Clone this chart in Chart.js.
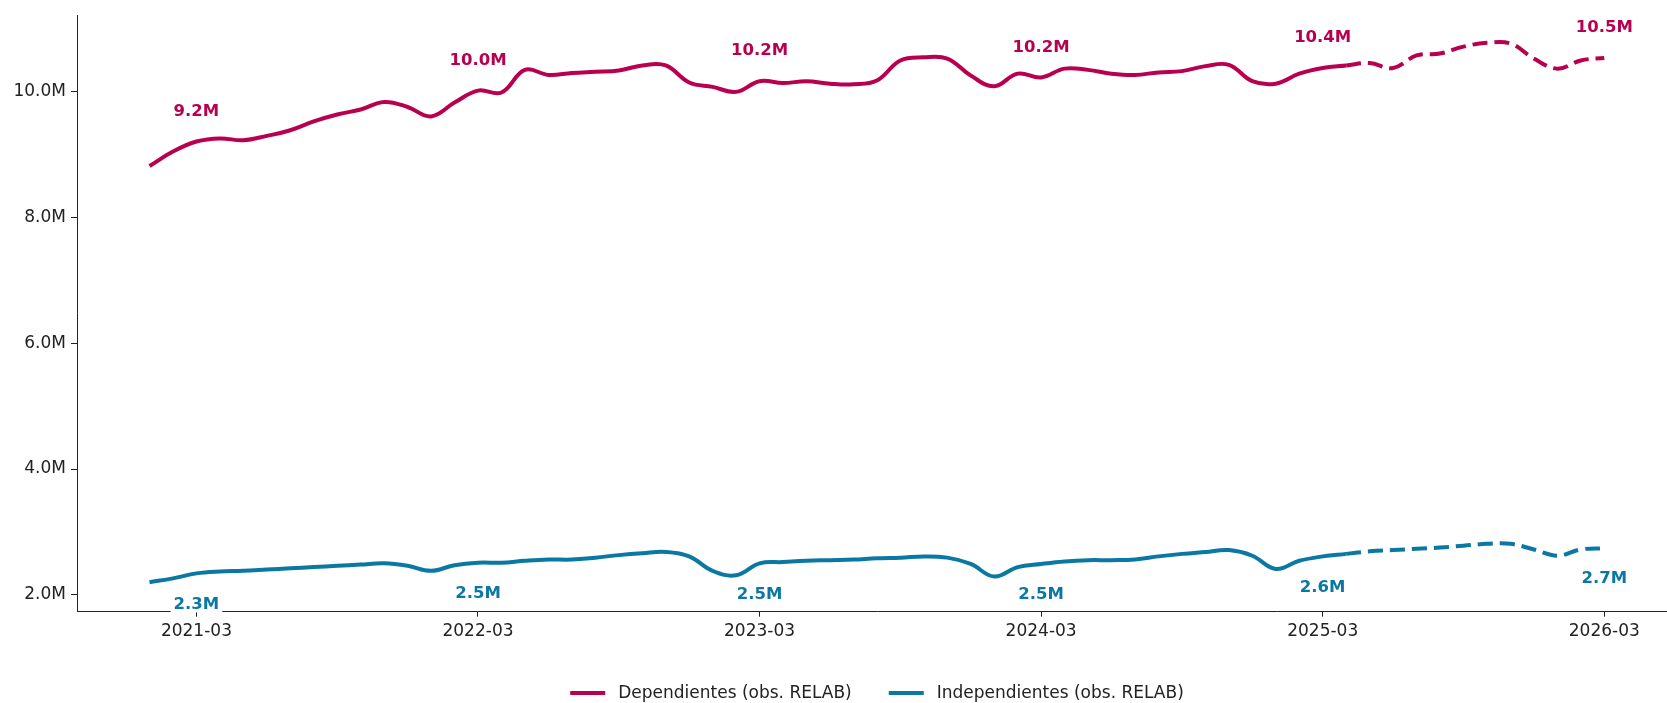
<!DOCTYPE html>
<html>
<head>
<meta charset="utf-8">
<script src="https://cdn.jsdelivr.net/npm/chart.js@4/dist/chart.umd.min.js"></script>
<style>
    html, body { margin: 0; padding: 0; background: #fff; overflow: hidden; }
    #wrap { width: 1680px; height: 703px; }
</style>
</head>
<body>
<div id="wrap"><canvas id="myLineChart" width="1680" height="703"></canvas></div>
<script>
// Data (millions of workers, monthly)
const months = [
    '2021-01', '2021-02', '2021-03', '2021-04', '2021-05', '2021-06', '2021-07', '2021-08', '2021-09', '2021-10', '2021-11', '2021-12',
    '2022-01', '2022-02', '2022-03', '2022-04', '2022-05', '2022-06', '2022-07', '2022-08', '2022-09', '2022-10', '2022-11', '2022-12',
    '2023-01', '2023-02', '2023-03', '2023-04', '2023-05', '2023-06', '2023-07', '2023-08', '2023-09', '2023-10', '2023-11', '2023-12',
    '2024-01', '2024-02', '2024-03', '2024-04', '2024-05', '2024-06', '2024-07', '2024-08', '2024-09', '2024-10', '2024-11', '2024-12',
    '2025-01', '2025-02', '2025-03', '2025-04', '2025-05', '2025-06', '2025-07', '2025-08', '2025-09', '2025-10', '2025-11', '2025-12',
    '2026-01', '2026-02', '2026-03'
];

const dependientes = [
    8.82, 9.05, 9.21, 9.26, 9.23, 9.30, 9.39, 9.53, 9.64, 9.72, 9.84, 9.76,
    9.61, 9.83, 10.02, 9.99, 10.35, 10.27, 10.30, 10.32, 10.34, 10.42, 10.42, 10.15,
    10.08, 10.00, 10.17, 10.14, 10.17, 10.13, 10.12, 10.18, 10.50, 10.55, 10.53, 10.26,
    10.09, 10.29, 10.23, 10.37, 10.35, 10.29, 10.27, 10.31, 10.33, 10.41, 10.43, 10.17,
    10.13, 10.29, 10.38, 10.42, 10.46, 10.38, 10.58, 10.61, 10.72, 10.78, 10.77, 10.53,
    10.37, 10.50, 10.54
];

const independientes = [
    2.20, 2.26, 2.34, 2.37, 2.38, 2.40, 2.42, 2.44, 2.46, 2.48, 2.50, 2.46,
    2.38, 2.47, 2.51, 2.51, 2.54, 2.56, 2.56, 2.59, 2.63, 2.66, 2.68, 2.61,
    2.38, 2.31, 2.50, 2.52, 2.54, 2.55, 2.56, 2.58, 2.59, 2.61, 2.59, 2.49,
    2.29, 2.44, 2.49, 2.53, 2.55, 2.55, 2.56, 2.61, 2.65, 2.68, 2.71, 2.62,
    2.41, 2.54, 2.61, 2.65, 2.69, 2.71, 2.73, 2.75, 2.78, 2.81, 2.81, 2.72,
    2.62, 2.72, 2.74
];

const seriesNames = ['Dependientes (obs. RELAB)', 'Independientes (obs. RELAB)'];
const seriesColors = ['#b8004f', '#0a78a3'];

// index from which the line becomes dashed (projection)
const dashFrom = 51;

// x ticks and annotated points (March of each year)
const xTickIdx = [2, 14, 26, 38, 50, 62];
const yTicks = [2, 4, 6, 8, 10];

const FONT = '"DejaVu Sans", sans-serif';

// Value labels above / below the lines
const valueLabels = {
    id: 'valueLabels',
    afterDraw(chart) {
        const ctx = chart.ctx;
        const xs = chart.scales.x;
        const ys = chart.scales.y;
        ctx.save();
        ctx.font = 'bold 16.5px ' + FONT;
        ctx.textAlign = 'center';
        ctx.textBaseline = 'middle';

        function drawLabel(text, px, py, color) {
            let w = ctx.measureText(text).width;
            ctx.fillStyle = '#fff';
            ctx.fillRect(px - w / 2 - 3, py - 8, w + 6, 16);
            ctx.fillStyle = color;
            ctx.fillText(text, px, py);
        }

        xTickIdx.forEach(function (i) {
            let px = xs.getPixelForValue(i);
            drawLabel(dependientes[i].toFixed(1) + 'M', px, ys.getPixelForValue(dependientes[i]) - 30, seriesColors[0]);
            drawLabel(independientes[i].toFixed(1) + 'M', px, ys.getPixelForValue(independientes[i]) + 31, seriesColors[1]);
        });
        ctx.restore();
    }
};

// Legend at the bottom, centered on the plot area
const bottomLegend = {
    id: 'bottomLegend',
    afterDraw(chart) {
        const ctx = chart.ctx;
        const area = chart.chartArea;
        ctx.save();
        ctx.font = '17px ' + FONT;
        ctx.textBaseline = 'middle';

        const swatch = 35;
        const gap = 13;
        const itemGap = 37;
        let widths = seriesNames.map(function (n) {
            return swatch + gap + ctx.measureText(n).width;
        });
        let total = widths.reduce(function (a, b) { return a + b; }, 0) + itemGap * (widths.length - 1);
        let x = (area.left + area.right) / 2 - total / 2;
        const y = 693;

        seriesNames.forEach(function (name, i) {
            ctx.strokeStyle = seriesColors[i];
            ctx.lineWidth = 4;
            ctx.beginPath();
            ctx.moveTo(x, y);
            ctx.lineTo(x + swatch, y);
            ctx.stroke();
            ctx.fillStyle = '#222';
            ctx.fillText(name, x + swatch + gap, y + 1);
            x += widths[i] + itemGap;
        });
        ctx.restore();
    }
};

function makeDataset(label, values, color) {
    return {
        label: label,
        data: values.map(function (v, i) { return { x: i, y: v }; }),
        borderColor: color,
        backgroundColor: color,
        borderWidth: 4,
        pointRadius: 0,
        tension: 0.4,
        fill: false,
        segment: {
            borderDash: function (ctx) {
                return ctx.p0DataIndex >= dashFrom ? [15, 7] : undefined;
            }
        }
    };
}

const myLineChartEl = document.getElementById('myLineChart');

const config = {
    type: 'line',
    data: {
        datasets: [
            makeDataset(seriesNames[0], dependientes, seriesColors[0]),
            makeDataset(seriesNames[1], independientes, seriesColors[1])
        ]
    },
    options: {
        responsive: false,
        animation: false,
        devicePixelRatio: 1,
        layout: {
            padding: { top: 11, right: 3, left: 0, bottom: 0 }
        },
        plugins: {
            legend: { display: false },
            tooltip: { enabled: false }
        },
        scales: {
            x: {
                type: 'linear',
                min: -3.09,
                max: 65.1,
                afterBuildTicks: function (scale) {
                    scale.ticks = xTickIdx.map(function (v) { return { value: v }; });
                },
                afterFit: function (scale) {
                    scale.height = 91.3;
                },
                ticks: {
                    autoSkip: false,
                    maxRotation: 0,
                    padding: 5,
                    color: '#222',
                    font: { family: FONT, size: 17 },
                    callback: function (v) { return months[v]; }
                },
                grid: {
                    drawOnChartArea: false,
                    drawTicks: true,
                    tickLength: 5,
                    color: '#222'
                },
                border: { display: true, color: '#222', width: 1 }
            },
            y: {
                type: 'linear',
                min: 1.73,
                max: 11.22,
                afterBuildTicks: function (scale) {
                    scale.ticks = yTicks.map(function (v) { return { value: v }; });
                },
                afterFit: function (scale) {
                    scale.width = 77;
                },
                ticks: {
                    padding: 5,
                    color: '#222',
                    font: { family: FONT, size: 17 },
                    callback: function (v) { return v.toFixed(1) + 'M'; }
                },
                grid: {
                    drawOnChartArea: false,
                    drawTicks: true,
                    tickLength: 6,
                    color: '#222'
                },
                border: { display: true, color: '#222', width: 1 }
            }
        }
    },
    plugins: [valueLabels, bottomLegend]
};

const lineChart = new Chart(myLineChartEl, config);
</script>
</body>
</html>
